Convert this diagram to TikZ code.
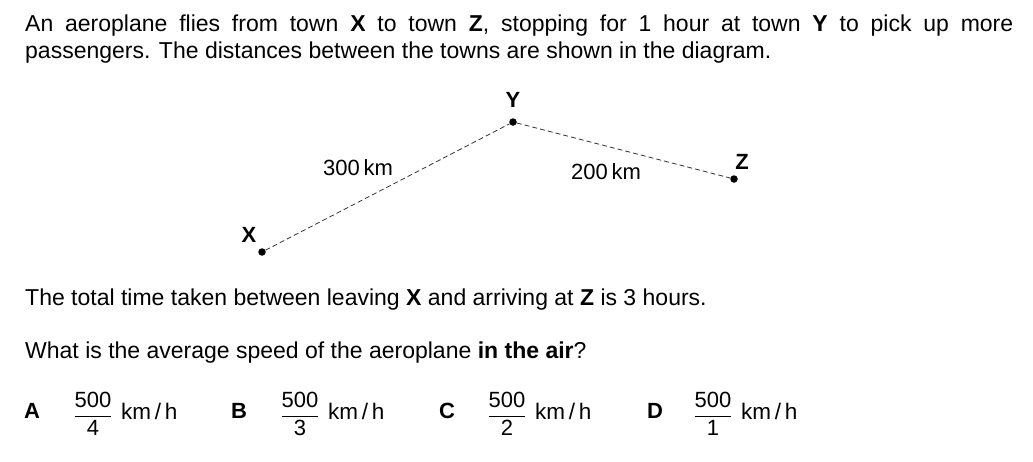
\documentclass[tikz,border=0pt]{standalone}
\usepackage{amsmath}
\usepackage{fontspec}
\setmainfont{Liberation Sans}
\begin{document}
\begin{tikzpicture}[x=1pt,y=-1pt,
  town/.style={circle,fill=black,inner sep=0pt,minimum size=7.5pt},
  route/.style={dashed,dash pattern=on 5pt off 3pt,line width=0.8pt,black!80},
  lbl/.style={font=\fontsize{22}{24}\selectfont\bfseries,inner sep=0pt},
  dist/.style={font=\fontsize{22}{24}\selectfont,inner sep=0pt},
  body/.style={font=\fontsize{23}{27.5}\selectfont,inner sep=0pt,anchor=base west},
  opt/.style={font=\fontsize{22}{24}\selectfont\bfseries,inner sep=0pt},
  frac/.style={font=\fontsize{22}{24}\selectfont,inner sep=0pt},
  unit/.style={font=\fontsize{22.5}{24}\selectfont,inner sep=0pt,anchor=west}]
\useasboundingbox (0,0) rectangle (1033,461);
\node[body,text width=988pt,align=justify] (intro) at (25,31)
  {An aeroplane flies from town \textbf{X} to town \textbf{Z}, stopping for 1 hour at town \textbf{Y} to pick up more\linebreak passengers. The distances between the towns are shown in the diagram.};
\node[town] (X) at (262,252) {};
\node[town] (Y) at (513,122) {};
\node[town] (Z) at (734,179) {};
\draw[route] (X) -- (Y);
\draw[route] (Y) -- (Z);
\node[lbl] (lX) at (249,235) {X};
\node[lbl] (lY) at (513,100) {Y};
\node[lbl] (lZ) at (742,162) {Z};
\node[dist] (d1) at (358,168) {300\,km};
\node[dist] (d2) at (606,172) {200\,km};
\node[body] (q1) at (25,305) {The total time taken between leaving \textbf{X} and arriving at \textbf{Z} is 3 hours.};
\node[body] (q2) at (25,358) {What is the average speed of the aeroplane \textbf{in the air}?};
\node[opt] (A) at (32,411) {A};
\node[frac] (fA) at (93,414) {$\dfrac{\text{500}}{\text{4}}$};
\node[unit] (uA) at (121,411) {km\,/\,h};
\node[opt] (B) at (239,411) {B};
\node[frac] (fB) at (300,414) {$\dfrac{\text{500}}{\text{3}}$};
\node[unit] (uB) at (328,411) {km\,/\,h};
\node[opt] (C) at (447,411) {C};
\node[frac] (fC) at (507,414) {$\dfrac{\text{500}}{\text{2}}$};
\node[unit] (uC) at (535,411) {km\,/\,h};
\node[opt] (D) at (655,411) {D};
\node[frac] (fD) at (713,414) {$\dfrac{\text{500}}{\text{1}}$};
\node[unit] (uD) at (741,411) {km\,/\,h};
\end{tikzpicture}
\end{document}
